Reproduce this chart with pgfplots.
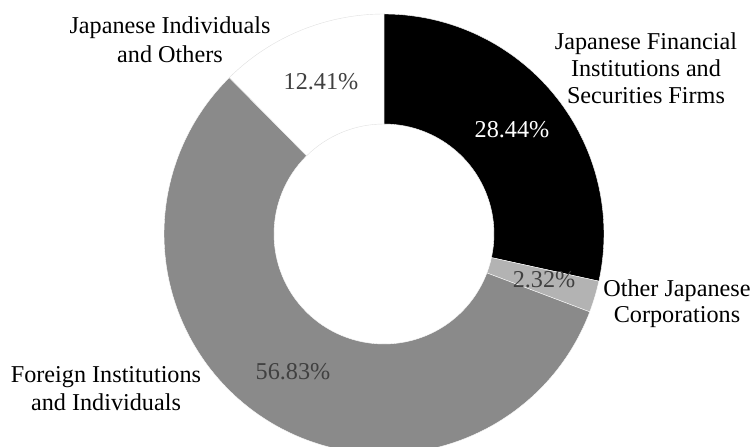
\documentclass[border=0pt]{standalone}
\usepackage{pgfplots}
\pgfplotsset{compat=1.18}
\usepackage{pgfplotstable}
\usepackage{fontspec}
\setmainfont{Liberation Serif}

\definecolor{sliceblack}{HTML}{000000}
\definecolor{slicelight}{HTML}{B3B3B3}
\definecolor{slicegray}{HTML}{8A8A8A}
\definecolor{pctgray}{HTML}{404040}

% shareholder composition, in percent, clockwise from 12 o'clock
\pgfplotstableread{
share
28.44
2.32
56.83
12.41
}\shares

\pgfplotstablegetelem{0}{share}\of\shares \let\vA\pgfplotsretval
\pgfplotstablegetelem{1}{share}\of\shares \let\vB\pgfplotsretval
\pgfplotstablegetelem{2}{share}\of\shares \let\vC\pgfplotsretval
\pgfplotstablegetelem{3}{share}\of\shares \let\vD\pgfplotsretval

\pgfmathsetmacro\aA{90}
\pgfmathsetmacro\aB{\aA-3.6*\vA}
\pgfmathsetmacro\aC{\aB-3.6*\vB}
\pgfmathsetmacro\aD{\aC-3.6*\vC}
\pgfmathsetmacro\aE{\aD-3.6*\vD}

% ring segment between two angles
\newcommand{\slice}[3]{%
  \fill[#3, shift={(axis cs:384,213)}]
    (#1:220pt) arc[start angle=#1, end angle=#2, radius=220pt]
    -- (#2:110pt) arc[start angle=#2, end angle=#1, radius=110pt] -- cycle;}

\begin{document}
\begin{tikzpicture}[font=\fontsize{24.2}{27}\selectfont]
\begin{axis}[
  name=ax,
  x=1pt, y=1pt,
  xmin=0, xmax=753, ymin=0, ymax=447,
  hide axis,
  clip=true,
]
\slice{\aA}{\aB}{sliceblack, draw=white, line width=0.4pt}
\slice{\aB}{\aC}{slicelight, draw=white, line width=0.4pt}
\slice{\aC}{\aD}{slicegray, draw=white, line width=0.4pt}
\slice{\aD}{\aE}{white, draw=black!12, line width=0.4pt}

\tikzset{lbl/.style={anchor=base, inner sep=0pt}}
% percentages
\node[lbl, text=white]   at (axis cs:512,309) {28.44\%};
\node[lbl, text=pctgray] at (axis cs:544,159) {2.32\%};
\node[lbl, text=pctgray] at (axis cs:293,67)  {56.83\%};
\node[lbl, text=pctgray] at (axis cs:321,357) {12.41\%};

% category names
\node[lbl] at (axis cs:646,397) {Japanese Financial};
\node[lbl] at (axis cs:646,370) {Institutions and};
\node[lbl] at (axis cs:646,343) {Securities Firms};
\node[lbl] at (axis cs:677,150) {Other Japanese};
\node[lbl] at (axis cs:677,124) {Corporations};
\node[lbl] at (axis cs:106,64)  {Foreign Institutions};
\node[lbl] at (axis cs:106,36)  {and Individuals};
\node[lbl] at (axis cs:170,413) {Japanese Individuals};
\node[lbl] at (axis cs:170,384) {and Others};
\end{axis}
\pgfresetboundingbox
\path[use as bounding box] (ax.south west) rectangle (ax.north east);
\end{tikzpicture}
\end{document}
